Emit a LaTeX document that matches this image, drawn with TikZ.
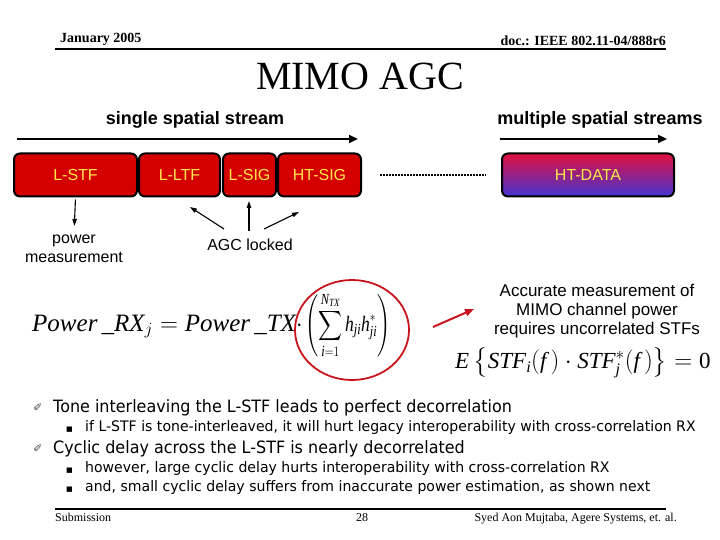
\documentclass[tikz,border=0pt]{standalone}
\usepackage{amsmath}
\usepackage{exscale}
\usepackage{fontspec}
\usepackage{graphicx}
\usetikzlibrary{arrows.meta,shapes.geometric}
\setmainfont{Liberation Serif}
\setsansfont{Liberation Sans}
\newfontfamily\tahoma[FakeStretch=0.94]{DejaVu Sans}
\newfontfamily\tahomasub[FakeStretch=0.97]{DejaVu Sans}
\newfontfamily\dingfont{DejaVu Sans}
\definecolor{segred}{HTML}{D40000}
\definecolor{segtext}{HTML}{FFE84A}
\definecolor{datatop}{HTML}{E0103C}
\definecolor{databot}{HTML}{4434D0}
\definecolor{ringred}{HTML}{C8141E}
\newcommand{\fs}[1]{\fontsize{#1}{#1}\selectfont}

\begin{document}
\begin{tikzpicture}[x=1pt,y=-1pt,
    seg/.style={draw=black, line width=2pt, fill=segred, rounded corners=6pt,
        minimum height=43pt, inner sep=0pt, text=segtext, font=\sffamily\fs{16}},
    lbl/.style={inner sep=0pt, align=center, font=\sffamily\fontsize{16}{19}\selectfont},
    stream/.style={line width=2.6pt, -{Triangle[length=9pt,width=8pt]}},
    thinarr/.style={line width=1.1pt, -{Triangle[length=7pt,width=4.5pt]}},
    bul/.style={anchor=base west, inner sep=0pt, font=\tahoma\fs{17}},
    subbul/.style={anchor=base west, inner sep=0pt, font=\tahomasub\fs{14.5}},
    sq/.style={anchor=base west, inner sep=0pt, font=\dingfont\fs{7}},
    pen/.style={anchor=base west, inner sep=0pt, text=black!70, font=\dingfont\fs{11}}
]
    \fill[white] (0,0) rectangle (720,540);
    \useasboundingbox (0,0) rectangle (720,540);

    % header
    \node[anchor=base west, inner sep=0pt, font=\bfseries\fs{14}] (date) at (60,43) {January 2005};
    \node[anchor=base east, inner sep=0pt, font=\bfseries\fs{14}] (doc) at (666,46) {doc.: IEEE 802.11-04/888r6};
    \draw[line width=2pt] (55,49) -- (666,49);
    \node[inner sep=0pt, font=\fs{40}] (title) at (360,76) {MIMO AGC};

    % stream labels and arrows
    \node[lbl, font=\sffamily\bfseries\fs{18}] (single) at (195,120) {single spatial stream};
    \node[lbl, font=\sffamily\bfseries\fs{18}] (multi) at (600,120) {multiple spatial streams};
    \coordinate (s1) at (17,139);
    \coordinate (s2) at (358,139);
    \coordinate (m1) at (500,139);
    \coordinate (m2) at (667,139);
    \draw[stream] (s1) -- (s2);
    \draw[stream] (m1) -- (m2);

    % packet fields
    \node[seg, minimum width=123pt] (lstf) at (75.5,175) {L-STF};
    \node[seg, minimum width=81pt] (lltf) at (179.5,175) {L-LTF};
    \node[seg, minimum width=53pt] (lsig) at (249.5,175) {L-SIG};
    \node[seg, minimum width=83pt] (htsig) at (319.5,175) {HT-SIG};
    \node[seg, minimum width=172pt, top color=datatop, bottom color=databot] (htdata) at (588,175) {HT-DATA};
    \draw[line width=2.2pt, dash pattern=on 1.6pt off 1.4pt] (htsig.east) ++(18,0) -- ([xshift=-15pt]htdata.west);

    % power measurement / AGC locked
    \node[lbl] (power) at (74,249) {power\\measurement};
    \draw[thinarr, shorten <=2pt, shorten >=9pt] (lstf.south) -- (power.north);
    \node[lbl] (agc) at (250,245) {AGC locked};
    \coordinate (a1) at (224,229);
    \coordinate (a2) at (190,207);
    \coordinate (b1) at (249,231);
    \coordinate (b2) at (249,201);
    \coordinate (c1) at (264,229);
    \coordinate (c2) at (299,212);
    \draw[thinarr] (a1) -- (a2);
    \draw[thinarr] (b1) -- (b2);
    \draw[thinarr] (c1) -- (c2);

    % power equation
    \node[anchor=base west, inner sep=0pt, font=\fs{25}] (eqpow) at (32,331)
        {$\textit{Power}\,\_\textit{RX}_{j} = \textit{Power}\,\_\textit{TX}\cdot$};
    \node[anchor=base west, inner sep=0pt, font=\fs{22}] (eqsum) at ([xshift=2pt]eqpow.base east)
        {\scalebox{0.8}[1]{$\displaystyle\left(\vrule height 36pt depth 26pt width 0pt\sum_{\textit{i}=1}^{\textit{N}_{\textit{TX}}}\textit{h}_{\textit{ji}}\textit{h}_{\textit{ji}}^{*}\right)$}};
    \node[draw=ringred, line width=1.8pt, ellipse, minimum width=114pt, minimum height=100pt] (ring) at (352,330) {};

    \node[lbl, font=\sffamily\fontsize{17}{19}\selectfont] (acc) at (597,311) {Accurate measurement of\\MIMO channel power\\requires uncorrelated STFs};
    \coordinate (r1) at (433,327);
    \coordinate (r2) at (474,309);
    \draw[ringred, line width=2pt, -{Triangle[length=9pt,width=7pt]}] (r1) -- (r2);

    \node[anchor=west, inner sep=0pt, font=\fs{23}] (eqstf) at (455,363)
        {$\textit{E}\left\{\textit{STF}_{\textit{i}}(\textit{f}\,)\cdot\textit{STF}_{\textit{j}}^{*}(\textit{f}\,)\right\}=\textnormal{0}$};

    % bullets
    \node[pen] (p1) at (33,411) {✐};
    \node[bul] (t1) at (53,412) {Tone interleaving the L-STF leads to perfect decorrelation};
    \node[sq] (q1) at (66,431) {■};
    \node[subbul] (t1a) at (85,431) {if L-STF is tone-interleaved, it will hurt legacy interoperability with cross-correlation RX};
    \node[pen] (p2) at (33,452) {✐};
    \node[bul] (t2) at (53,453) {Cyclic delay across the L-STF is nearly decorrelated};
    \node[sq] (q2) at (66,472) {■};
    \node[subbul] (t2a) at (85,472) {however, large cyclic delay hurts interoperability with cross-correlation RX};
    \node[sq] (q3) at (66,491) {■};
    \node[subbul] (t2b) at (85,491) {and, small cyclic delay suffers from inaccurate power estimation, as shown next};

    % footer
    \draw[line width=2pt] (55,509) -- (666,509);
    \node[anchor=base west, inner sep=0pt, font=\fs{12}] (sub) at (55,521) {Submission};
    \node[anchor=base, inner sep=0pt, font=\fs{12}] (page) at (362,521) {28};
    \node[anchor=base east, inner sep=0pt, font=\fs{12}] (auth) at (677,521) {Syed Aon Mujtaba, Agere Systems, et. al.};
\end{tikzpicture}
\end{document}
